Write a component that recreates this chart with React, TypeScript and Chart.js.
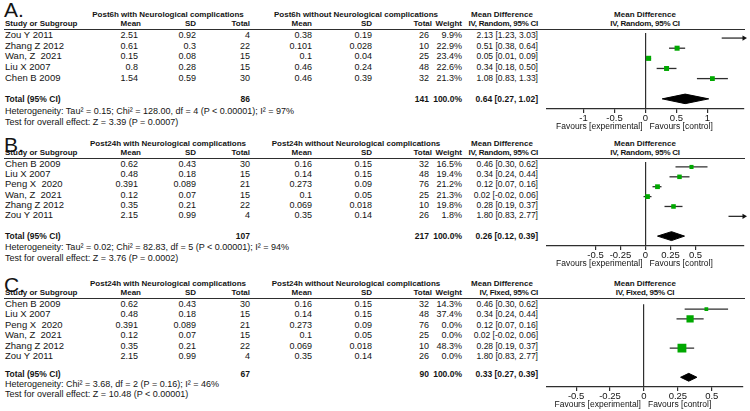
import React, { useEffect, useRef } from 'react';
import { Chart, registerables } from 'chart.js';
Chart.register(...registerables);

// ---------- Panel A (Post6h, random effects) ----------
const studiesA = ['Zou Y 2011', 'Zhang Z 2012', 'Wan, Z  2021', 'Liu X 2007', 'Chen B 2009'];
const meanExpA = [2.51, 0.61, 0.15, 0.8, 1.54];
const sdExpA = [0.92, 0.3, 0.08, 0.28, 0.59];
const totExpA = [4, 22, 15, 15, 30];
const meanCtlA = [0.38, 0.101, 0.1, 0.46, 0.46];
const sdCtlA = [0.19, 0.028, 0.04, 0.24, 0.39];
const totCtlA = [26, 10, 25, 48, 32];
const weightA = [9.9, 22.9, 23.4, 22.6, 21.3];
const mdA = [2.13, 0.51, 0.05, 0.34, 1.08];
const loA = [1.23, 0.38, 0.01, 0.18, 0.83];
const hiA = [3.03, 0.64, 0.09, 0.5, 1.33];
const totalA = { nExp: 86, nCtl: 141, md: 0.64, lo: 0.27, hi: 1.02 };
const ticksA = [-1, -0.5, 0, 0.5, 1];

// ---------- Panel B (Post24h, random effects) ----------
const studiesB = ['Chen B 2009', 'Liu X 2007', 'Peng X  2020', 'Wan, Z  2021', 'Zhang Z 2012', 'Zou Y 2011'];
const meanExpB = [0.62, 0.48, 0.391, 0.12, 0.35, 2.15];
const sdExpB = [0.43, 0.18, 0.089, 0.07, 0.21, 0.99];
const totExpB = [30, 15, 21, 15, 22, 4];
const meanCtlB = [0.16, 0.14, 0.273, 0.1, 0.069, 0.35];
const sdCtlB = [0.15, 0.15, 0.09, 0.05, 0.018, 0.14];
const totCtlB = [32, 48, 76, 25, 10, 26];
const weightB = [16.5, 19.4, 21.2, 21.3, 19.8, 1.8];
const mdB = [0.46, 0.34, 0.12, 0.02, 0.28, 1.8];
const loB = [0.3, 0.24, 0.07, -0.02, 0.19, 0.83];
const hiB = [0.62, 0.44, 0.16, 0.06, 0.37, 2.77];
const totalB = { nExp: 107, nCtl: 217, md: 0.26, lo: 0.12, hi: 0.39 };
const ticksB = [-0.5, -0.25, 0, 0.25, 0.5];

// ---------- Panel C (Post24h, fixed effect) ----------
const weightC = [14.3, 37.4, 0.0, 0.0, 48.3, 0.0];
const totalC = { nExp: 67, nCtl: 90, md: 0.33, lo: 0.27, hi: 0.39 };
const ticksC = [-0.5, -0.25, 0, 0.25, 0.5];

const FONT = '"Liberation Sans", Arial, sans-serif';
const TXT = '#141414';
const GREEN = '#00a800';
const LINE = '#2e2e2e';

type Cfg = {
  letter: string; letterTop: number; lineY: number; axisY: number; footShift: number; footGap: number;
  padL: number; padR: number; xMin: number; xMax: number; ticks: number[];
  hdrExp: string; hdrCtl: string; method: string;
  studies: string[]; meanExp: number[]; sdExp: number[]; totExp: number[];
  meanCtl: number[]; sdCtl: number[]; totCtl: number[]; weight: number[];
  md: number[]; lo: number[]; hi: number[];
  total: { nExp: number; nCtl: number; md: number; lo: number; hi: number };
  het: string; test: string; diamondH: number;
};

const panels: Cfg[] = [
  {
    letter: 'A.', letterTop: 0, lineY: 29, axisY: 109, footShift: 0.5, footGap: 11.5, padL: 7, padR: 6, xMin: -1.59, xMax: 1.59, ticks: ticksA,
    hdrExp: 'Post6h with Neurological complications', hdrCtl: 'Post6h without Neurological complications', method: 'IV, Random, 95% CI',
    studies: studiesA, meanExp: meanExpA, sdExp: sdExpA, totExp: totExpA, meanCtl: meanCtlA, sdCtl: sdCtlA, totCtl: totCtlA,
    weight: weightA, md: mdA, lo: loA, hi: hiA, total: totalA,
    het: 'Heterogeneity: Tau² = 0.15; Chi² = 128.00, df = 4 (P < 0.00001); I² = 97%',
    test: 'Test for overall effect: Z = 3.39 (P = 0.0007)', diamondH: 0.47,
  },
  {
    letter: 'B.', letterTop: 135, lineY: 158, axisY: 246, footShift: 0, footGap: 11, padL: 7, padR: 6, xMin: -0.985, xMax: 0.985, ticks: ticksB,
    hdrExp: 'Post24h with Neurological complications', hdrCtl: 'Post24h without Neurological complications', method: 'IV, Random, 95% CI',
    studies: studiesB, meanExp: meanExpB, sdExp: sdExpB, totExp: totExpB, meanCtl: meanCtlB, sdCtl: sdCtlB, totCtl: totCtlB,
    weight: weightB, md: mdB, lo: loB, hi: hiB, total: totalB,
    het: 'Heterogeneity: Tau² = 0.02; Chi² = 82.83, df = 5 (P < 0.00001); I² = 94%',
    test: 'Test for overall effect: Z = 3.76 (P = 0.0002)', diamondH: 0.45,
  },
  {
    letter: 'C.', letterTop: 275, lineY: 298, axisY: 387, footShift: -3.5, footGap: 10, padL: 5, padR: 7, xMin: -0.72, xMax: 0.73, ticks: ticksC,
    hdrExp: 'Post24h with Neurological complications', hdrCtl: 'Post24h without Neurological complications', method: 'IV, Fixed, 95% CI',
    studies: studiesB, meanExp: meanExpB, sdExp: sdExpB, totExp: totExpB, meanCtl: meanCtlB, sdCtl: sdCtlB, totCtl: totCtlB,
    weight: weightC, md: mdB, lo: loB, hi: hiB, total: totalC,
    het: 'Heterogeneity: Chi² = 3.68, df = 2 (P = 0.16); I² = 46%',
    test: 'Test for overall effect: Z = 10.48 (P < 0.00001)', diamondH: 0.4,
  },
];

const COL = { study: 5, mean1: 138, sd1: 196, tot1: 250, mean2: 312, sd2: 372, tot2: 429, weight: 462, md: 538, grp1: 168, grp2: 356, mdHead: 502, plotHead: 645 };

function T(props: { x: number; y: number; align?: 'left' | 'right' | 'center'; bold?: boolean; size?: number; ls?: number; children: any }) {
  const { x, y, align = 'left', bold = false, size, ls, children } = props;
  const fs = size ?? (bold ? 8 : 9);
  const style: any = {
    position: 'absolute', top: y - 6, height: 12, lineHeight: '12px', fontSize: fs,
    fontWeight: bold ? 'bold' : 'normal', whiteSpace: 'pre', color: TXT, fontFamily: FONT,
  };
  if (ls !== undefined) style.letterSpacing = ls;
  if (align === 'left') style.left = x;
  else if (align === 'right') style.right = 750 - x;
  else { style.left = x - 150; style.width = 300; style.textAlign = 'center'; }
  return <div style={style}>{children}</div>;
}

const fmtCI = (m: number, l: number, h: number) => `${m.toFixed(2)} [${l.toFixed(2)}, ${h.toFixed(2)}]`;

function Panel({ cfg }: { cfg: Cfg }) {
  const ref = useRef<HTMLCanvasElement | null>(null);
  const n = cfg.studies.length;
  const unit = (cfg.axisY - cfg.lineY) / (n + 2.5);
  const ry = (i: number) => cfg.lineY + (i + 0.5) * unit + 0.5;
  const totalIdx = n + 1;
  const canvasH = cfg.axisY - cfg.lineY + 28;

  useEffect(() => {
    const datasets: any[] = [];
    const sq: any[] = [];
    const radii: number[] = [];
    cfg.md.forEach((m, i) => {
      if (cfg.weight[i] <= 0) return;
      if (m >= cfg.xMin && m <= cfg.xMax) {
        sq.push({ x: m, y: i });
        const side = 1.6 + cfg.weight[i] * 0.15;
        radii.push(side / (2 * Math.SQRT1_2));
      }
    });
    datasets.push({
      type: 'scatter', data: sq, pointStyle: 'rect', pointRadius: radii, pointBackgroundColor: GREEN,
      pointBorderWidth: 0, showLine: false, order: 0,
    });
    cfg.md.forEach((m, i) => {
      if (cfg.weight[i] <= 0) return;
      const l = Math.max(cfg.lo[i], cfg.xMin);
      const h = Math.min(cfg.hi[i], cfg.xMax);
      datasets.push({
        type: 'line', data: [{ x: l, y: i }, { x: h, y: i }], borderColor: LINE, borderWidth: 1.3,
        pointRadius: 0, fill: false, order: 2,
      });
      if (cfg.hi[i] > cfg.xMax) {
        datasets.push({
          type: 'scatter', data: [{ x: cfg.xMax, y: i }], pointStyle: 'triangle', rotation: 90, pointRadius: 3,
          pointBackgroundColor: '#111', pointBorderColor: '#111', pointBorderWidth: 0, clip: false, order: 1,
        });
      }
    });
    const t = cfg.total;
    const d = cfg.diamondH;
    datasets.push({
      type: 'line',
      data: [
        { x: t.lo, y: totalIdx }, { x: t.md, y: totalIdx - d }, { x: t.hi, y: totalIdx },
        { x: t.md, y: totalIdx + d }, { x: t.lo, y: totalIdx },
      ],
      borderColor: '#000', backgroundColor: '#000', borderWidth: 1, fill: 'shape', pointRadius: 0, tension: 0, order: 1,
    });

    const favours = {
      id: 'favours',
      afterDraw(chart: any) {
        const xs = chart.scales.x;
        const ctx = chart.ctx;
        const x0 = xs.getPixelForValue(0);
        const y = chart.chartArea.bottom + 18;
        ctx.save();
        ctx.font = `8.5px ${FONT}`;
        ctx.fillStyle = TXT;
        ctx.textBaseline = 'middle';
        ctx.textAlign = 'right';
        ctx.fillText('Favours [experimental]', x0 - 3, y);
        ctx.textAlign = 'left';
        ctx.fillText('Favours [control]', x0 + 4, y);
        ctx.restore();
      },
    };

    const chart = new Chart(ref.current as HTMLCanvasElement, {
      type: 'scatter',
      data: { datasets },
      options: {
        animation: false,
        responsive: false,
        maintainAspectRatio: false,
        events: [],
        layout: { padding: { left: cfg.padL, right: cfg.padR, top: 0, bottom: 0 } },
        plugins: { legend: { display: false }, tooltip: { enabled: false }, title: { display: false } },
        scales: {
          x: {
            type: 'linear', min: cfg.xMin, max: cfg.xMax,
            afterBuildTicks: (s: any) => { s.ticks = cfg.ticks.map((v) => ({ value: v })); },
            afterFit: (s: any) => { s.height = 28; },
            grid: {
              color: (c: any) => (c.tick && c.tick.value === 0 ? LINE : 'rgba(0,0,0,0)'),
              tickColor: LINE, tickLength: 4, lineWidth: 1.2, drawOnChartArea: true,
            },
            border: { display: true, color: LINE, width: 1.2 },
            ticks: {
              color: TXT, font: { family: FONT, size: 9.5 }, padding: 0, maxRotation: 0, autoSkip: false,
              callback: (v: any) => String(v),
            },
          },
          y: { type: 'linear', display: false, reverse: true, min: -0.5, max: n + 2 },
        },
      } as any,
      plugins: [favours],
    });
    return () => chart.destroy();
  }, []);

  const L = cfg.lineY;
  const ty = ry(totalIdx) + cfg.footShift;
  return (
    <>
      <div style={{ position: 'absolute', left: 4, top: cfg.letterTop, fontSize: 21, lineHeight: '20px', fontFamily: FONT, color: TXT }}>{cfg.letter}</div>
      <T x={COL.grp1} y={L - 14} align="center" bold>{cfg.hdrExp}</T>
      <T x={COL.grp2} y={L - 14} align="center" bold>{cfg.hdrCtl}</T>
      <T x={COL.mdHead} y={L - 14} align="center" bold>Mean Difference</T>
      <T x={COL.plotHead} y={L - 14} align="center" bold>Mean Difference</T>
      <T x={COL.study} y={L - 5} bold>Study or Subgroup</T>
      <T x={COL.mean1 + 3} y={L - 5} align="right" bold>Mean</T>
      <T x={COL.sd1} y={L - 5} align="right" bold>SD</T>
      <T x={COL.tot1} y={L - 5} align="right" bold>Total</T>
      <T x={COL.mean2} y={L - 5} align="right" bold>Mean</T>
      <T x={COL.sd2} y={L - 5} align="right" bold>SD</T>
      <T x={COL.tot2 + 3} y={L - 5} align="right" bold>Total</T>
      <T x={COL.weight} y={L - 5} align="right" bold>Weight</T>
      <T x={COL.md} y={L - 5} align="right" bold ls={-0.25}>{cfg.method}</T>
      <T x={COL.plotHead} y={L - 5} align="center" bold ls={-0.25}>{cfg.method}</T>
      <div style={{ position: 'absolute', left: 4, top: L, width: 741, height: 1.2, background: LINE }} />
      {cfg.studies.map((s, i) => (
        <React.Fragment key={s}>
          <T x={COL.study} y={ry(i)} size={9.5}>{s}</T>
          <T x={COL.mean1} y={ry(i)} align="right">{String(cfg.meanExp[i])}</T>
          <T x={COL.sd1} y={ry(i)} align="right">{String(cfg.sdExp[i])}</T>
          <T x={COL.tot1} y={ry(i)} align="right">{String(cfg.totExp[i])}</T>
          <T x={COL.mean2} y={ry(i)} align="right">{String(cfg.meanCtl[i])}</T>
          <T x={COL.sd2} y={ry(i)} align="right">{String(cfg.sdCtl[i])}</T>
          <T x={COL.tot2} y={ry(i)} align="right">{String(cfg.totCtl[i])}</T>
          <T x={COL.weight} y={ry(i)} align="right">{cfg.weight[i].toFixed(1) + '%'}</T>
          <T x={COL.md} y={ry(i)} align="right" size={8.5}>{fmtCI(cfg.md[i], cfg.lo[i], cfg.hi[i])}</T>
        </React.Fragment>
      ))}
      <T x={COL.study} y={ty} bold size={8.5}>Total (95% CI)</T>
      <T x={COL.tot1} y={ty} align="right" bold size={8.5}>{String(cfg.total.nExp)}</T>
      <T x={COL.tot2} y={ty} align="right" bold size={8.5}>{String(cfg.total.nCtl)}</T>
      <T x={COL.weight} y={ty} align="right" bold size={8.5}>100.0%</T>
      <T x={COL.md} y={ty} align="right" bold size={8.5}>{fmtCI(cfg.total.md, cfg.total.lo, cfg.total.hi)}</T>
      <T x={COL.study} y={ty + cfg.footGap}>{cfg.het}</T>
      <T x={COL.study} y={ty + cfg.footGap * 2}>{cfg.test}</T>
      <canvas ref={ref} width={210} height={canvasH} style={{ position: 'absolute', left: 540, top: L, width: 210, height: canvasH }} />
    </>
  );
}

export default function App() {
  return (
    <div style={{ position: 'absolute', left: 0, top: 0, width: 750, height: 411, background: '#fff', overflow: 'hidden', fontFamily: FONT }}>
      {panels.map((p) => <Panel key={p.letter} cfg={p} />)}
    </div>
  );
}
